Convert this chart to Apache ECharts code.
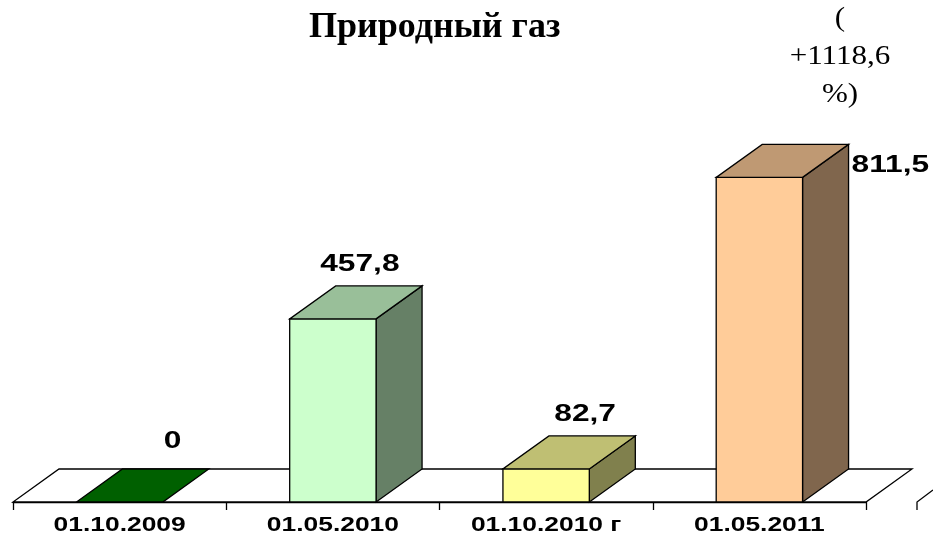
<!DOCTYPE html>
<html>
<head>
<meta charset="utf-8">
<script src="https://cdn.jsdelivr.net/npm/echarts@6/dist/echarts.min.js"></script>
<style>
	html, body { margin: 0; padding: 0; background: #fff; }
	#main { width: 933px; height: 538px; }
</style>
</head>
<body>
<div id="main"></div>
<script>
var categories = ['01.10.2009', '01.05.2010', '01.10.2010 г', '01.05.2011'];
var values = [0, 457.8, 82.7, 811.5];
var valueLabels = ['0', '457,8', '82,7', '811,5'];

// цвета граней: перед, верх, бок
var faceColors = [
	['#006000', '#006000', '#004000'],
	['#ccffcc', '#99bf99', '#668066'],
	['#ffff99', '#bfbf73', '#80804d'],
	['#ffcc99', '#bf9973', '#80664d']
];
// сдвиг подписей относительно центра верхней грани
var labelShift = [[30, -44], [4, -38], [16, -38], [null, null]];
var depthX = 46, depthY = -33;
var sansBold = '"Liberation Sans", Arial, sans-serif';

var myChart = echarts.init(document.getElementById('main'));

function renderFloor(params, api) {
	var cs = params.coordSys;
	var yb = api.coord([0, 0])[1];
	return {
		type: 'polygon',
		shape: {
			points: [[cs.x, yb], [cs.x + cs.width, yb],
				[cs.x + cs.width + depthX, yb + depthY], [cs.x + depthX, yb + depthY]]
		},
		style: { fill: '#fff', stroke: '#000', lineWidth: 1.3 }
	};
}

function renderBar(params, api) {
	var idx = api.value(0);
	var val = api.value(1);
	var base = api.coord([idx, 0]);
	var top = api.coord([idx, val]);
	var bw = api.size([1, 0])[0] * 0.405;
	var x0 = base[0] - bw / 2, x1 = base[0] + bw / 2;
	var yb = base[1], yt = top[1];
	var c = faceColors[idx];
	var line = { stroke: '#000', lineWidth: 1.3 };
	var children = [];
	if (val > 0) {
		children.push({
			type: 'polygon',
			shape: { points: [[x1, yt], [x1 + depthX, yt + depthY], [x1 + depthX, yb + depthY], [x1, yb]] },
			style: Object.assign({ fill: c[2] }, line)
		});
		children.push({
			type: 'rect',
			shape: { x: x0, y: yt, width: bw, height: yb - yt },
			style: Object.assign({ fill: c[0] }, line)
		});
	}
	children.push({
		type: 'polygon',
		shape: { points: [[x0, yt], [x1, yt], [x1 + depthX, yt + depthY], [x0 + depthX, yt + depthY]] },
		style: Object.assign({ fill: c[1] }, line)
	});
	var sh = labelShift[idx];
	var lx, ly, align;
	if (sh[0] === null) {
		lx = x1 + depthX + 3; ly = yt + depthY + 21; align = 'left';
	} else {
		lx = (x0 + x1) / 2 + depthX / 2 + sh[0]; ly = yt + depthY / 2 + sh[1]; align = 'center';
	}
	children.push({
		type: 'text',
		x: lx,
		y: ly,
		scaleX: 1.32,
		style: {
			x: 0, y: 0, text: valueLabels[idx],
			align: align, verticalAlign: 'middle',
			font: 'bold 24px ' + sansBold,
			fill: '#000'
		}
	});
	// подпись категории под осью
	children.push({
		type: 'text',
		x: base[0],
		y: yb + 23,
		scaleX: 1.32,
		style: {
			x: 0, y: 0, text: categories[idx],
			align: 'center', verticalAlign: 'middle',
			font: 'bold 20px ' + sansBold,
			fill: '#000'
		}
	});
	return { type: 'group', children: children };
}

var option = {
	animation: false,
	title: {
		text: 'Природный газ',
		left: 304,
		top: 5,
		textStyle: {
			fontFamily: '"Liberation Serif", "Times New Roman", serif',
			fontWeight: 'bold',
			fontSize: 36,
			color: '#000'
		}
	},
	graphic: [{
		type: 'text',
		x: 840,
		y: 0,
		scaleX: 1.15,
		style: {
			x: 0, y: 0,
			text: '(\n+1118,6\n%)',
			align: 'center',
			verticalAlign: 'top',
			font: '27px "Liberation Serif", "Times New Roman", serif',
			lineHeight: 38,
			fill: '#000'
		}
	}, {
		type: 'polyline',
		shape: { points: [[917, 510], [917, 502], [933, 490]] },
		style: { stroke: '#000', lineWidth: 1.3, fill: null }
	}],
	grid: {
		left: 13,
		right: 67,
		top: 102,
		bottom: 36
	},
	xAxis: {
		type: 'category',
		data: categories,
		axisLine: { show: true, lineStyle: { color: '#000', width: 1.3 } },
		axisTick: { show: true, length: 8, lineStyle: { color: '#000', width: 1.3 } },
		axisLabel: { show: false }
	},
	yAxis: {
		type: 'value',
		min: 0,
		max: 1000,
		show: false,
		splitLine: { show: false }
	},
	series: [{
		type: 'custom',
		z: 1,
		silent: true,
		renderItem: renderFloor,
		data: [[0, 0]]
	}, {
		type: 'custom',
		z: 2,
		renderItem: renderBar,
		data: values.map(function(v, i) { return [i, v]; })
	}]
};
myChart.setOption(option);
</script>
</body>
</html>
